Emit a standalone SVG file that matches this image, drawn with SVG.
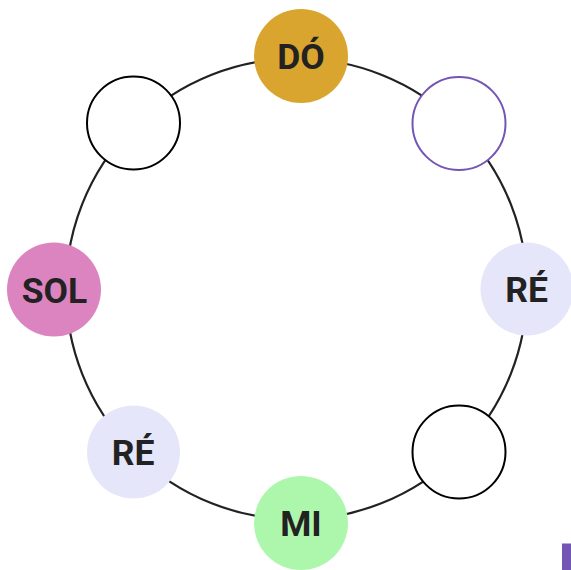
<svg xmlns="http://www.w3.org/2000/svg" width="571" height="570" viewBox="0 0 571 570">
  <style>
    .ring { fill: #ffffff; stroke: #000000; stroke-width: 2; }
    .ring.accent { stroke: #7455b5; }
    .label { font-family: Roboto, "Liberation Sans", sans-serif; font-weight: bold; font-size: 35.5px; fill: #222222; text-anchor: middle; }
    .loop { fill: none; stroke: #222222; stroke-width: 2.2; }
  </style>
  <rect width="571" height="570" fill="#ffffff"/>

  <!-- cycle connector -->
  <g id="connectors">
    <circle class="loop" cx="296.5" cy="289" r="230.5"/>
  </g>

  <!-- notes around the cycle -->
  <g id="node-do">
    <circle cx="301" cy="56" r="47" fill="#daa52e"/>
    <text class="label" x="301" y="69">DÓ</text>
  </g>
  <g id="node-ring-ne">
    <circle class="ring accent" cx="459" cy="123.5" r="46.5"/>
  </g>
  <g id="node-re-east">
    <circle cx="527" cy="289" r="46.5" fill="#e6e6fa"/>
    <text class="label" x="526.5" y="302">RÉ</text>
  </g>
  <g id="node-ring-se">
    <circle class="ring" cx="459" cy="452" r="46.5"/>
  </g>
  <g id="node-mi">
    <circle cx="301" cy="523" r="47" fill="#adf7ad"/>
    <text class="label" x="301" y="536">MI</text>
  </g>
  <g id="node-re-west">
    <circle cx="133.5" cy="452" r="46.5" fill="#e6e6fa"/>
    <text class="label" x="133" y="465">RÉ</text>
  </g>
  <g id="node-sol">
    <circle cx="54" cy="289.5" r="47" fill="#dc84c0"/>
    <text class="label" x="54.5" y="302.5">SOL</text>
  </g>
  <g id="node-ring-nw">
    <circle class="ring" cx="133.5" cy="123" r="46.5"/>
  </g>

  <!-- corner marker -->
  <rect x="562" y="543.5" width="9" height="26.5" fill="#7455b5"/>
</svg>
